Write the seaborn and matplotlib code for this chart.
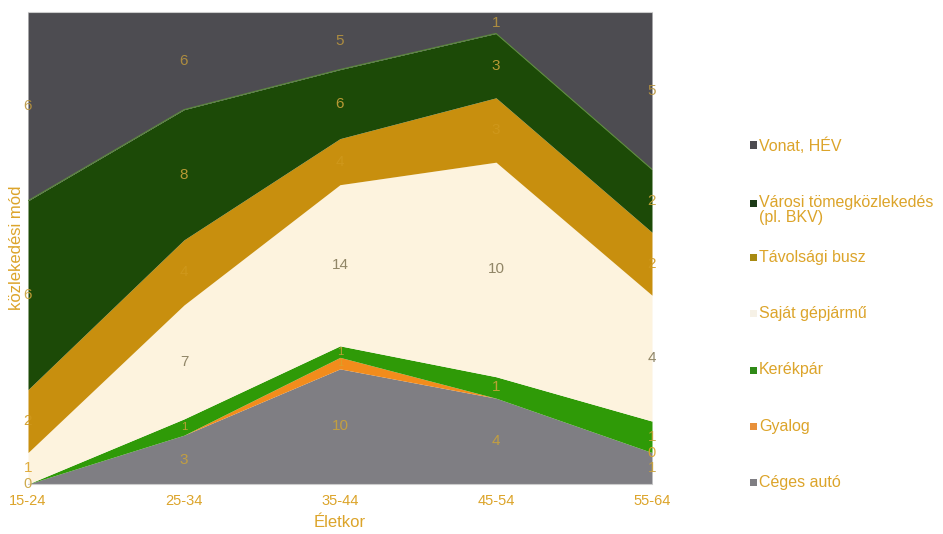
import matplotlib
matplotlib.use("Agg")
import matplotlib.pyplot as plt
import seaborn as sns
import numpy as np
import pandas as pd
from matplotlib.patches import Rectangle

# ---- data ----
categories = ["15-24", "25-34", "35-44", "45-54", "55-64"]
series_names = ["Céges autó", "Gyalog", "Kerékpár", "Saját gépjármű",
                "Távolsági busz", "Városi tömegközlekedés\n(pl. BKV)", "Vonat, HÉV"]
ceges = [0, 3, 10, 4, 1]
gyalog = [0, 0, 1, 0, 0]
kerekpar = [0, 1, 1, 1, 1]
sajat = [1, 7, 14, 10, 4]
tavolsagi = [2, 4, 4, 3, 2]
varosi = [6, 8, 6, 3, 2]
vonat = [6, 6, 5, 1, 5]

colors = ["#7f7e83", "#f28c1c", "#2f9a07", "#fdf3de", "#c88f0e", "#1c4a07", "#4d4c51"]
legend_colors = ["#7f7e83", "#e8903a", "#2f8a17", "#f6f1e6", "#a88a12", "#1c3a17", "#4d4c51"]
label_colors = ["#c9a23a", "#d9a32a", "#c9a23a", "#857a5a", "#cf981c", "#c9a23a", "#b8943e"]

sns.set_theme(style="white")
plt.rcParams["font.family"] = ["Liberation Sans", "DejaVu Sans"]

gold = "#dca42a"

df = pd.DataFrame({"cat": categories, "Céges autó": ceges, "Gyalog": gyalog,
                   "Kerékpár": kerekpar, "Saját gépjármű": sajat,
                   "Távolsági busz": tavolsagi, "Városi": varosi, "Vonat": vonat})
vals = np.array([ceges, gyalog, kerekpar, sajat, tavolsagi, varosi, vonat], dtype=float)
tot = vals.sum(axis=0)
share = vals / tot
x = np.arange(len(categories))

fig = plt.figure(figsize=(9.43, 5.34), dpi=100)
W, H = 943, 534
ax = fig.add_axes([28 / W, 1 - 484 / H, (652 - 28) / W, (484 - 12) / H])

ax.stackplot(x, share, colors=colors, linewidth=0)
cum = np.cumsum(share, axis=0)
# thin boundary line between Városi and Vonat
sns.lineplot(x=x, y=cum[5], ax=ax, color="#5b8a3c", linewidth=0.8, legend=False)

# data labels at middle of each band
for j in range(len(x)):
    used = []
    for i in range(vals.shape[0]):
        mid = cum[i, j] - share[i, j] / 2
        v = int(vals[i, j])
        fs = 11 if share[i, j] > 0.04 else 8
        if v == 0:
            edge = j in (0, len(x) - 1)
            if not edge:
                continue
            if any(abs(mid - u) < 1e-9 for u in used):
                continue
            fs = 10.5
        used.append(mid)
        c = label_colors[i]
        if i == 3 and j == 0:
            c = gold
        ax.text(x[j], mid, f"{v}", ha="center", va="center",
                fontsize=fs, color=c, alpha=0.9)

ax.set_xlim(0, len(x) - 1)
ax.set_ylim(0, 1)
ax.set_yticks([])
ax.set_xticks(x)
ax.set_xticklabels(categories, color=gold, fontsize=10.5)
ax.tick_params(axis="x", length=0, pad=7)
for s in ["left", "right"]:
    ax.spines[s].set_visible(False)
for s in ["top", "bottom"]:
    ax.spines[s].set_color("#cccccc")
    ax.spines[s].set_linewidth(0.8)
ax.set_xlabel("Életkor", color=gold, fontsize=12, labelpad=5)
ax.set_ylabel("közlekedési mód", color=gold, fontsize=12, labelpad=3)

# legend (top to bottom: Vonat ... Céges)
order = list(range(len(series_names)))[::-1]
y0 = 145
step = 56.3
for k, i in enumerate(order):
    yc = y0 + step * k
    if k == 1:
        yc += 2
    fig.add_artist(Rectangle((750 / W, 1 - (yc + 3.5) / H), 7 / W, 7 / H,
                             transform=fig.transFigure, color=legend_colors[i], lw=0))
    fig.text(759 / W, 1 - (yc - 8) / H, series_names[i], ha="left", va="top",
             fontsize=11.5, color=gold, linespacing=0.95)

fig.savefig("out.png", dpi=100)
